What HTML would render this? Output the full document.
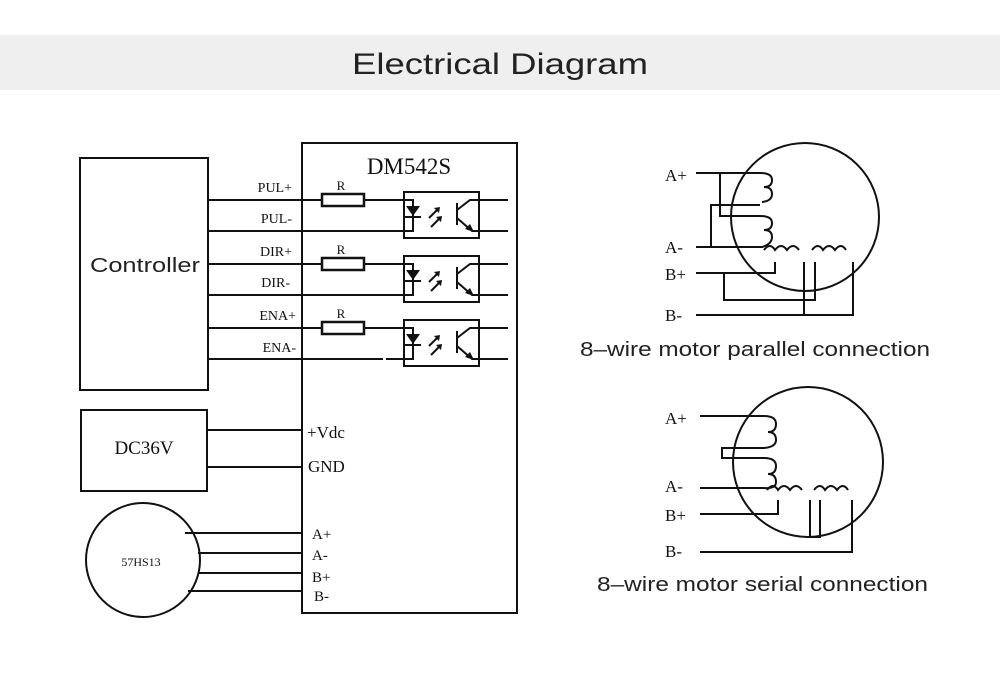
<!DOCTYPE html>
<html><head><meta charset="utf-8"><style>
html,body{margin:0;padding:0;background:#fff;}
svg{display:block;}
.t{font-family:"Liberation Serif",serif;fill:#111;}
.s{font-family:"Liberation Sans",sans-serif;fill:#222;}
</style></head><body>
<svg width="1000" height="683" viewBox="0 0 1000 683" xmlns="http://www.w3.org/2000/svg">
<rect x="0" y="35" width="1000" height="55" fill="#efefef"/>
<text class="s" x="500" y="74" font-size="30" text-anchor="middle" textLength="296" lengthAdjust="spacingAndGlyphs">Electrical Diagram</text>

<g stroke="#111" stroke-width="2" fill="none">
<rect x="80" y="158" width="128" height="232"/>
<rect x="302" y="143" width="215" height="470"/>
<rect x="81" y="410" width="126" height="81"/>
<circle cx="143" cy="560" r="57"/>
<path d="M208 200H322M364 200H508M208 231H508M208 264H322M364 264H508M208 295H508M208 328H322M364 328H508M208 359H383M386 359H508"/>
<rect x="322" y="194" width="42" height="12" stroke-width="2.5"/>
<rect x="322" y="258" width="42" height="12" stroke-width="2.5"/>
<rect x="322" y="322" width="42" height="12" stroke-width="2.5"/>
<path d="M208 430H302M207 467H302M185 533H302M198 553H302M198 573H302M188 591H302"/>
</g>

<g id="opto">
<rect x="404" y="192" width="75" height="46" fill="#fff" stroke="#111" stroke-width="2"/>
<path d="M404 200H413V231H404" stroke="#111" stroke-width="2" fill="none"/>
<polygon points="406,206 420,206 413,216" fill="#111"/>
<path d="M405 217H421" stroke="#111" stroke-width="2"/>
<path d="M429 218l9-9M431 227l9-9" stroke="#111" stroke-width="2"/>
<polygon points="440,207 434,208 439,213" fill="#111"/>
<polygon points="442,216 436,217 441,222" fill="#111"/>
<path d="M457 203V225M457 210L470 200H479M457 218L472 231H479" stroke="#111" stroke-width="2" fill="none"/>
<polygon points="474,232 465,229 470,224" fill="#111"/>
</g>
<use href="#opto" y="64"/>
<use href="#opto" y="128"/>

<g class="t">
<text x="409" y="174" font-size="23" text-anchor="middle">DM542S</text>
<text x="292" y="192" font-size="14" text-anchor="end">PUL+</text>
<text x="292" y="223" font-size="14" text-anchor="end">PUL-</text>
<text x="292" y="256" font-size="14" text-anchor="end">DIR+</text>
<text x="290" y="287" font-size="14" text-anchor="end">DIR-</text>
<text x="296" y="320" font-size="14" text-anchor="end">ENA+</text>
<text x="296" y="352" font-size="14" text-anchor="end">ENA-</text>
<text x="341" y="190" font-size="13" text-anchor="middle">R</text>
<text x="341" y="254" font-size="13" text-anchor="middle">R</text>
<text x="341" y="318" font-size="13" text-anchor="middle">R</text>
<text x="144" y="454" font-size="19" text-anchor="middle">DC36V</text>
<text x="307" y="438" font-size="17">+Vdc</text>
<text x="308" y="472" font-size="17">GND</text>
<text x="141" y="566" font-size="12" text-anchor="middle">57HS13</text>
<text x="312" y="539" font-size="15">A+</text>
<text x="312" y="560" font-size="15">A-</text>
<text x="312" y="582" font-size="15">B+</text>
<text x="314" y="601" font-size="15">B-</text>
<text x="665" y="181" font-size="17">A+</text>
<text x="665" y="253" font-size="17">A-</text>
<text x="665" y="280" font-size="17">B+</text>
<text x="665" y="321" font-size="17">B-</text>
<text x="665" y="424" font-size="17">A+</text>
<text x="665" y="492" font-size="17">A-</text>
<text x="665" y="521" font-size="17">B+</text>
<text x="665" y="557" font-size="17">B-</text>
</g>
<text class="s" x="90" y="272" font-size="20" textLength="110" lengthAdjust="spacingAndGlyphs">Controller</text>
<text class="s" x="580" y="356" font-size="20" textLength="350" lengthAdjust="spacingAndGlyphs">8–wire motor parallel connection</text>
<text class="s" x="597" y="591" font-size="20" textLength="331" lengthAdjust="spacingAndGlyphs">8–wire motor serial connection</text>

<g stroke="#111" stroke-width="2" fill="none">
<circle cx="805" cy="217" r="74"/>
<path d="M696 173H760M696 247H763M696 273H775V262M696 315H853V262"/>
<path d="M720 173V216H760M711 247V205H760"/>
<path d="M724 273V300H815V262M804 262V315"/>
<path d="M760 173q12 0 12 7q0 7 -8 7q8 0 8 7q0 7 -10 8"/>
<path d="M760 216q12 0 12 7q0 7 -8 7q8 0 8 7q0 7 -10 10"/>
<path d="M764 250q6-8 11 0q6-8 12 0q6-8 12 0"/>
<path d="M812 250q6-8 11 0q6-8 12 0q6-8 11 0"/>
</g>

<g stroke="#111" stroke-width="2" fill="none">
<circle cx="808" cy="462" r="75"/>
<path d="M700 416H764M700 488H765M700 514H778V500M700 552H852V500"/>
<path d="M764 448H722V458H764"/>
<path d="M764 416q12 0 12 8q0 8 -8 8q8 0 8 8q0 7 -12 8"/>
<path d="M764 458q12 0 12 8q0 8 -8 8q8 0 8 8q0 7 -12 6"/>
<path d="M767 490q6-8 11 0q6-8 12 0q6-8 12 0"/>
<path d="M814 490q6-8 11 0q6-8 12 0q6-8 11 0"/>
<path d="M810 500V537H820V500"/>
</g>
</svg>
</body></html>
